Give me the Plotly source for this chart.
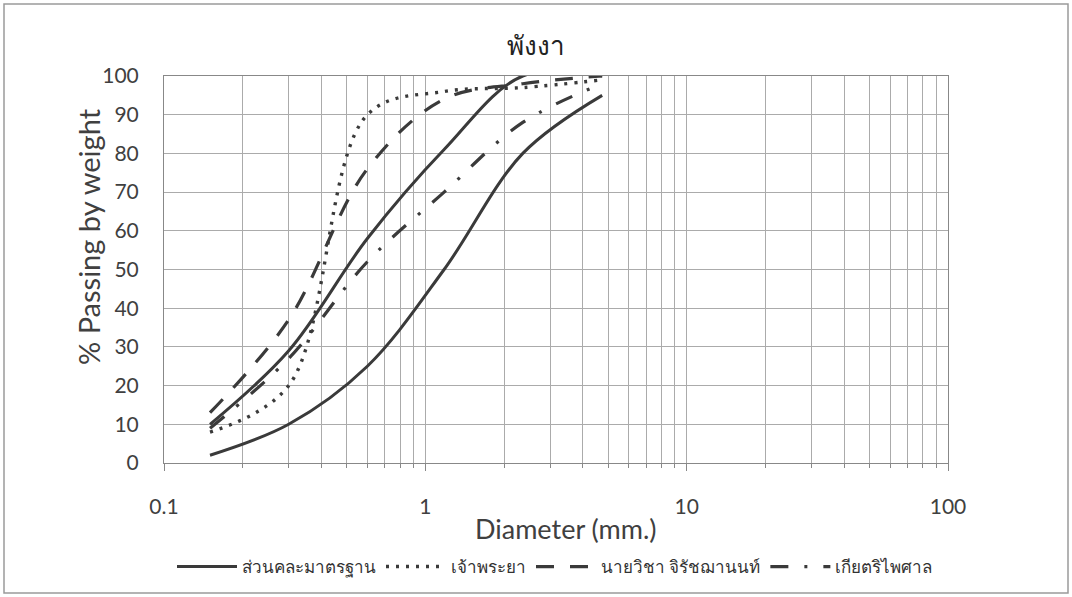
import plotly.graph_objects as go

sieve_mm = [0.15, 0.3, 0.6, 1.18, 2.36, 4.75]
std_upper = [10, 29, 58, 81, 100, 100]
std_lower = [2, 10, 25, 50, 80, 95]
chaophraya = [8, 20, 90, 96, 97, 99]
wicha = [13, 37, 76, 94, 98, 100]
kiat = [9, 27, 52, 70, 88, 98]

names = ["ส่วนคละมาตรฐาน", "เจ้าพระยา", "นายวิชา จิรัชฌานนท์", "เกียตริไพศาล"]
title_text = "พังงา"
x_title = "Diameter (mm.)"
y_title = "% Passing by weight"
x_ticks = [0.1, 1, 10, 100]
x_ticklabels = ["0.1", "1", "10", "100"]
y_ticks = list(range(0, 101, 10))

LINE = "#3a3a3a"
GRID = "#ababab"
FONT = "Lato, 'Noto Sans', sans-serif"

fig = go.Figure()
common = dict(mode="lines", line_shape="spline")
fig.add_trace(go.Scatter(x=sieve_mm, y=std_upper, name=names[0], legendgroup="std",
                         line=dict(color=LINE, width=3, smoothing=1), **common))
fig.add_trace(go.Scatter(x=sieve_mm, y=chaophraya, name=names[1],
                         line=dict(color=LINE, width=3.4, dash="3px,7px", smoothing=1), **common))
fig.add_trace(go.Scatter(x=sieve_mm, y=wicha, name=names[2],
                         line=dict(color=LINE, width=3.2, dash="18px,16px", smoothing=1), **common))
fig.add_trace(go.Scatter(x=sieve_mm, y=kiat, name=names[3],
                         line=dict(color=LINE, width=3.2, dash="18px,16px,3px,16px", smoothing=1), **common))
fig.add_trace(go.Scatter(x=sieve_mm, y=std_lower, name=names[0], legendgroup="std", showlegend=False,
                         line=dict(color=LINE, width=3, smoothing=1), **common))

minor_vals = [m * 10 ** e for e in (-1, 0, 1) for m in range(2, 10)]

W, H = 1072, 597
L, R, T, B = 164, 124, 76, 134
pw, ph = W - L - R, H - T - B

def px_x(p):
    return (p - L) / pw

def px_y(p):
    return (H - B - p) / ph

fig.update_layout(
    width=W, height=H,
    margin=dict(l=L, r=R, t=T, b=B, autoexpand=False),
    paper_bgcolor="white", plot_bgcolor="white",
    font=dict(family=FONT, color="#404040", size=21),
    title=dict(text=title_text, x=px_x(556), xanchor="center", y=1 - 46 / H, yanchor="middle",
               font=dict(size=26, color="#222", family=FONT, weight="normal")),
    showlegend=True,
    legend=dict(orientation="h", x=px_x(172), xanchor="left", y=px_y(567), yanchor="middle",
                font=dict(size=17, color="#333"), itemwidth=60, tracegroupgap=0,
                bgcolor="rgba(0,0,0,0)"),
    xaxis=dict(type="log", range=[-1, 2], tickvals=x_ticks, ticktext=x_ticklabels,
               showgrid=True, gridcolor=GRID, gridwidth=1,
               minor=dict(tickvals=minor_vals, showgrid=True, gridcolor=GRID, gridwidth=1,
                          ticks="outside", ticklen=4, tickcolor="#888"),
               ticks="outside", ticklen=7, tickcolor="#888",
               showline=True, linecolor="#888", linewidth=1, mirror=True,
               ticklabelstandoff=18, zeroline=False),
    yaxis=dict(range=[0, 100], tickvals=y_ticks, showgrid=True, gridcolor=GRID, gridwidth=1,
               showline=True, linecolor="#888", linewidth=1, mirror=True,
               ticks="", ticklabelstandoff=20, zeroline=False),
    annotations=[
        dict(text=x_title, xref="paper", yref="paper", x=px_x(566), y=px_y(528),
             xanchor="center", yanchor="middle", showarrow=False,
             font=dict(size=27, color="#404040", family=FONT)),
        dict(text=y_title, xref="paper", yref="paper", x=px_x(88), y=px_y(237),
             xanchor="center", yanchor="middle", showarrow=False, textangle=-90,
             font=dict(size=29, color="#404040", family=FONT)),
    ],
    shapes=[dict(type="rect", xref="paper", yref="paper",
                 x0=px_x(4), x1=px_x(1068), y0=px_y(593), y1=px_y(4),
                 line=dict(color="#9a9a9a", width=1.5), layer="below")],
)

fig.write_html("out.html")
